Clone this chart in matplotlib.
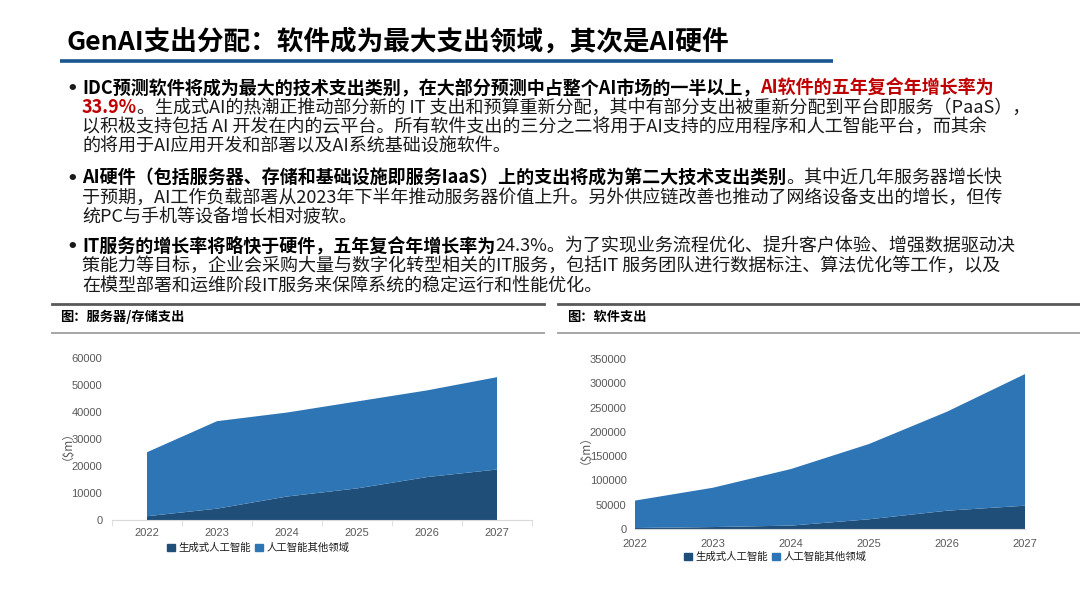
import matplotlib
matplotlib.use("Agg")
import matplotlib.pyplot as plt
from matplotlib.patches import Patch
import numpy as np

plt.rcParams["font.family"] = ["Noto Sans CJK SC", "DejaVu Sans"]
plt.rcParams["axes.unicode_minus"] = False

# ---- data ----
years = ["2022", "2023", "2024", "2025", "2026", "2027"]
series_names = ["生成式人工智能", "人工智能其他领域"]

# 服务器/存储支出 ($m)
hw_genai = [1400, 4200, 8700, 11700, 15900, 18700]
hw_total = [25100, 36600, 39800, 43900, 48000, 52900]
hw_other = [t - g for t, g in zip(hw_total, hw_genai)]

# 软件支出 ($m)
sw_genai = [2000, 4000, 7000, 20000, 37700, 48000]
sw_total = [58500, 85000, 123500, 175000, 241500, 319000]
sw_other = [t - g for t, g in zip(sw_total, sw_genai)]

hw_ticks = [0, 10000, 20000, 30000, 40000, 50000, 60000]
sw_ticks = [0, 50000, 100000, 150000, 200000, 250000, 300000, 350000]

title = "GenAI支出分配：软件成为最大支出领域，其次是AI硬件"
left_caption = "图：服务器/存储支出"
right_caption = "图：软件支出"

# each bullet: list of lines, each line a list of (text, style)
bullets = [
    [
        [("IDC预测软件将成为最大的技术支出类别，在大部分预测中占整个AI市场的一半以上，", "b"),
         ("AI软件的五年复合年增长率为", "r")],
        [("33.9%", "r"),
         ("。生成式AI的热潮正推动部分新的 IT 支出和预算重新分配，其中有部分支出被重新分配到平台即服务（PaaS），", "n")],
        [("以积极支持包括 AI 开发在内的云平台。所有软件支出的三分之二将用于AI支持的应用程序和人工智能平台，而其余", "n")],
        [("的将用于AI应用开发和部署以及AI系统基础设施软件。", "n")],
    ],
    [
        [("AI硬件（包括服务器、存储和基础设施即服务IaaS）上的支出将成为第二大技术支出类别", "b"),
         ("。其中近几年服务器增长快", "n")],
        [("于预期，AI工作负载部署从2023年下半年推动服务器价值上升。另外供应链改善也推动了网络设备支出的增长，但传", "n")],
        [("统PC与手机等设备增长相对疲软。", "n")],
    ],
    [
        [("IT服务的增长率将略快于硬件，五年复合年增长率为", "b"),
         ("24.3%。为了实现业务流程优化、提升客户体验、增强数据驱动决", "n")],
        [("策能力等目标，企业会采购大量与数字化转型相关的IT服务，包括IT 服务团队进行数据标注、算法优化等工作，以及", "n")],
        [("在模型部署和运维阶段IT服务来保障系统的稳定运行和性能优化。", "n")],
    ],
]
bullet_tops = [88, 178, 246]

W, H = 1080, 608
dark_blue = "#1F4E79"
mid_blue = "#2E75B6"
text_color = "#1A1A1A"
red = "#C00000"

fig = plt.figure(figsize=(W / 100, H / 100), dpi=100)
fig.patch.set_facecolor("white")
bg = fig.add_axes([0, 0, 1, 1])
bg.set_xlim(0, W)
bg.set_ylim(H, 0)
bg.axis("off")

# title + underline
bg.text(66, 42, title, fontsize=19.2, fontweight="bold", color="black", va="center", ha="left")
bg.plot([60, 833], [61, 61], color="#1B5590", lw=2.6, solid_capstyle="butt")

# bullet text
styles = {
    "b": dict(fontweight="bold", color="black"),
    "r": dict(fontweight="bold", color=red),
    "n": dict(fontweight="normal", color=text_color),
}
fs = 13
line_gap = 19.6
for top, lines in zip(bullet_tops, bullets):
    bg.text(66, top + 1, "•", fontsize=13, fontweight="bold", color=text_color,
            va="center", ha="left", family="DejaVu Sans")
    for i, parts in enumerate(lines):
        y = top + i * line_gap
        t = None
        for s, st in parts:
            if t is None:
                t = bg.text(82, y, s, fontsize=fs, va="center", ha="left", **styles[st])
            else:
                t = bg.annotate(s, xy=(1, 0), xycoords=t, va="bottom", ha="left",
                                fontsize=fs, **styles[st])

# chart headers
for x0, x1, tx, cap in [(52, 544, 60, left_caption), (558, 1080, 567, right_caption)]:
    bg.plot([x0, x1], [304, 304], color="#595959", lw=2.0)
    bg.plot([x0, x1], [333, 333], color="#A6A6A6", lw=1.4)
    bg.text(tx, 317, cap, fontsize=9.5, fontweight="bold", color="black", va="center", ha="left")

tick_color = "#595959"
num_font = "Liberation Sans"

# ---- left chart: server / storage ----
ax1 = fig.add_axes([112 / W, 1 - 520 / H, 420 / W, 162 / H])
x = np.arange(len(years))
ax1.stackplot(x, hw_genai, hw_other, colors=[dark_blue, mid_blue], labels=series_names)
ax1.set_xlim(-0.5, len(years) - 0.5)
ax1.set_ylim(0, 60000)
ax1.set_yticks(hw_ticks)
ax1.set_xticks(x)
ax1.set_xticklabels(years)
ax1.set_xticks(np.arange(-0.5, len(years)), minor=True)
ax1.tick_params(axis="x", which="major", length=0, labelsize=8, colors=tick_color, pad=6)
ax1.tick_params(axis="x", which="minor", length=4, color="#D9D9D9")
ax1.tick_params(axis="y", length=0, labelsize=8, colors=tick_color, pad=7)
for side in ["top", "right", "left"]:
    ax1.spines[side].set_visible(False)
ax1.spines["bottom"].set_color("#D9D9D9")
ax1.set_facecolor("none")
ax1.set_ylabel("（$m）", fontsize=8.5, color=tick_color, labelpad=3)

# ---- right chart: software ----
ax2 = fig.add_axes([635 / W, 1 - 529 / H, 390 / W, 170 / H])
ax2.stackplot(x, sw_genai, sw_other, colors=[dark_blue, mid_blue], labels=series_names)
ax2.set_xlim(0, len(years) - 1)
ax2.set_ylim(0, 350000)
ax2.set_yticks(sw_ticks)
ax2.set_xticks(x)
ax2.set_xticklabels(years)
ax2.tick_params(axis="x", length=0, labelsize=8, colors=tick_color, pad=7)
ax2.tick_params(axis="y", length=0, labelsize=8, colors=tick_color, pad=6)
for side in ["top", "right", "left"]:
    ax2.spines[side].set_visible(False)
ax2.spines["bottom"].set_color("#D9D9D9")
ax2.set_facecolor("none")
ax2.set_ylabel("（$m）", fontsize=8.5, color=tick_color, labelpad=3)

for ax in (ax1, ax2):
    for lab in ax.get_xticklabels() + ax.get_yticklabels():
        lab.set_fontfamily(num_font)

# legends
handles = [Patch(color=dark_blue), Patch(color=mid_blue)]
for ax, cx, cy in [(ax1, 258, 548), (ax2, 775, 557)]:
    ax.legend(handles, series_names, loc="center", bbox_to_anchor=(cx / W, 1 - cy / H),
              bbox_transform=fig.transFigure, ncol=2, frameon=False, fontsize=7.5,
              handlelength=0.8, handleheight=0.8, handletextpad=0.3, columnspacing=0.4,
              labelcolor=text_color)

fig.savefig("out.png", dpi=100, facecolor="white")
